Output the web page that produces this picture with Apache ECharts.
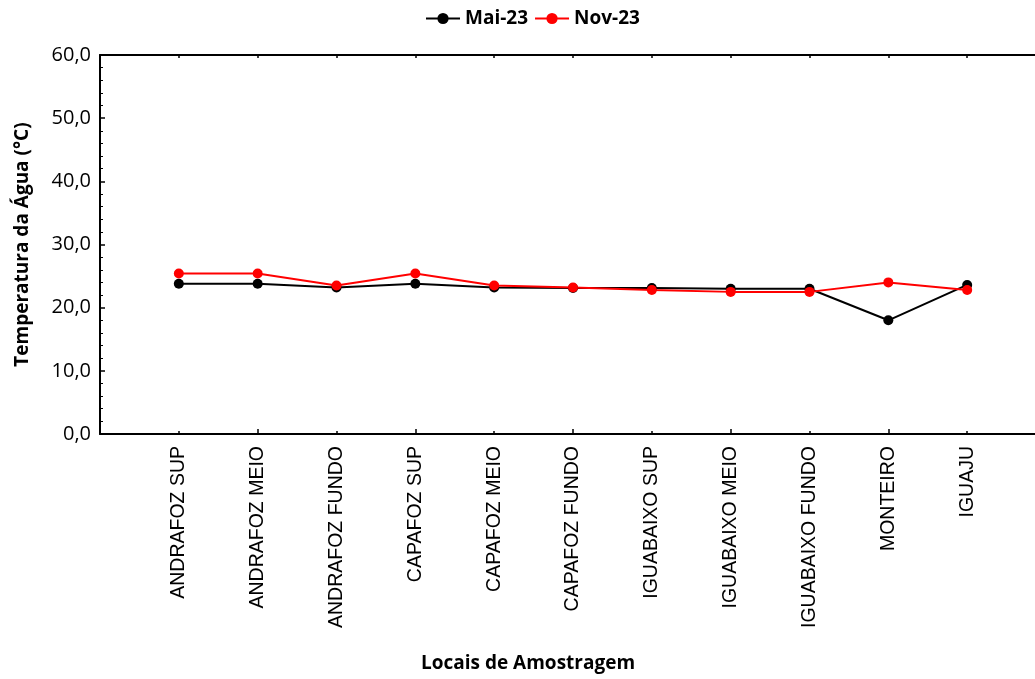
<!DOCTYPE html>
<html>
<head>
<meta charset="utf-8">
<script src="https://cdn.jsdelivr.net/npm/echarts@6/dist/echarts.min.js"></script>
<style>html,body{margin:0;padding:0;background:#fff}#c{width:1035px;height:679px}</style>
</head>
<body>
<div id="c"></div>
<script>
const categories = ['ANDRAFOZ SUP','ANDRAFOZ MEIO','ANDRAFOZ FUNDO','CAPAFOZ SUP','CAPAFOZ MEIO','CAPAFOZ FUNDO','IGUABAIXO SUP','IGUABAIXO MEIO','IGUABAIXO FUNDO','MONTEIRO','IGUAJU'];
const mai23 = [23.8, 23.8, 23.2, 23.8, 23.2, 23.1, 23.1, 23.0, 23.0, 18.0, 23.6];
const nov23 = [25.4, 25.4, 23.5, 25.4, 23.5, 23.2, 22.8, 22.5, 22.5, 24.0, 22.8];
const seriesNames = ['Mai-23', 'Nov-23'];
const yTicks = [0, 10, 20, 30, 40, 50, 60];

const chart = echarts.init(document.getElementById('c'));
const catPos = categories.map((c, i) => i + 1);
const evenPos = catPos.filter(p => p % 2 === 0);
const toPts = arr => arr.map((v, i) => [i + 1, v]);
const boldFont = { fontFamily: 'Open Sans', fontWeight: 'bold', fontSize: 19, color: '#000' };
chart.setOption({
  animation: false,
  backgroundColor: '#fff',
  legend: {
    top: 4, left: 420,
    itemWidth: 34, itemHeight: 14, itemGap: 6,
    textStyle: boldFont,
    data: seriesNames
  },
  title: {
    text: 'Locais de Amostragem', left: 416, top: 649,
    textStyle: boldFont
  },
  grid: { left: 100, top: 55, bottom: 245, right: -11, outerBoundsMode: 'none', containLabel: false },
  xAxis: [{
    type: 'value', min: 0, max: 12, interval: 1,
    axisLine: { lineStyle: { color: '#000', width: 2 } },
    axisTick: { inside: true, length: 3, customValues: catPos, lineStyle: { color: '#000', width: 1.5 } },
    splitLine: { show: false },
    axisLabel: {
      rotate: 90, margin: 12, fontFamily: 'Liberation Sans', fontSize: 19.5, color: '#000',
      customValues: catPos,
      formatter: v => categories[v - 1] || ''
    }
  }, {
    type: 'value', position: 'top', min: 0, max: 12, interval: 1,
    axisLine: { lineStyle: { color: '#000', width: 2 } },
    axisTick: { inside: true, length: 3, customValues: catPos, lineStyle: { color: '#000', width: 1.5 } },
    splitLine: { show: false },
    axisLabel: { show: false }
  }, {
    type: 'value', position: 'bottom', min: 0, max: 12, interval: 1,
    axisLine: { show: false },
    axisTick: { inside: true, length: 5, customValues: evenPos, lineStyle: { color: '#000', width: 1.5 } },
    splitLine: { show: false },
    axisLabel: { show: false }
  }],
  yAxis: {
    type: 'value', min: yTicks[0], max: yTicks[yTicks.length - 1], interval: 10,
    name: 'Temperatura da Água (°C)', nameLocation: 'middle', nameGap: 68, nameRotate: 90,
    nameTextStyle: boldFont,
    axisLine: { show: true, lineStyle: { color: '#000', width: 2 } },
    axisTick: { show: true, inside: true, length: 5, lineStyle: { color: '#000', width: 1.5 } },
    minorTick: { show: true, splitNumber: 5, length: 3, lineStyle: { color: '#000', width: 1 } },
    splitLine: { show: false },
    axisLabel: {
      margin: 9, fontFamily: 'Open Sans', fontSize: 20, color: '#000',
      formatter: v => v.toFixed(1).replace('.', ',')
    }
  },
  series: [{
    name: seriesNames[0], type: 'line', data: toPts(mai23),
    symbol: 'circle', symbolSize: 10,
    itemStyle: { color: '#000' }, lineStyle: { color: '#000', width: 2 }
  }, {
    name: seriesNames[1], type: 'line', data: toPts(nov23),
    symbol: 'circle', symbolSize: 10,
    itemStyle: { color: '#ff0000' }, lineStyle: { color: '#ff0000', width: 2 }
  }]
});
</script>
</body>
</html>
